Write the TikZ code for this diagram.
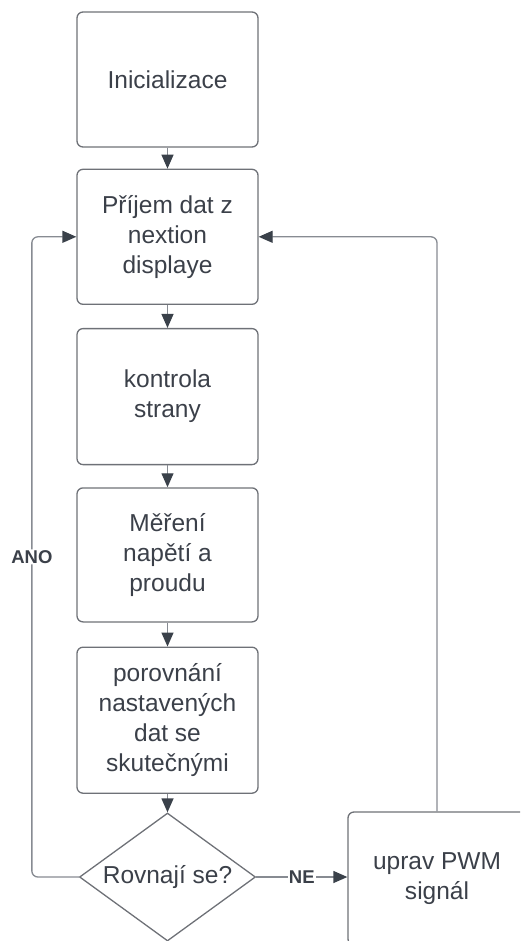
\documentclass[tikz,border=0pt]{standalone}
\usepackage{fontspec}
\setmainfont{Liberation Sans}
\usetikzlibrary{positioning, arrows.meta, shapes.geometric}
\definecolor{boxline}{HTML}{6E7177}
\definecolor{flowline}{HTML}{878B92}
\definecolor{tipdark}{HTML}{3A414A}
\definecolor{txtdark}{HTML}{3B4049}

\begin{document}
\begin{tikzpicture}[
		x=1pt, y=-1pt,
		>={Triangle[length=14pt, width=12pt, color=tipdark]},
		stepbox/.style={draw=boxline, line width=1.3pt, rounded corners=6pt,
			minimum width=181pt, align=center, text=txtdark, inner sep=2pt,
			font=\fontsize{24.5}{30}\selectfont},
		decision/.style={diamond, aspect=1.375, draw=boxline, line width=1.3pt, inner sep=0pt,
			minimum width=176pt, minimum height=128pt, text=txtdark,
			font=\fontsize{24.5}{30}\selectfont},
		flow/.style={->, draw=flowline, line width=1.3pt},
		tag/.style={fill=white, inner sep=1pt, text=txtdark,
			font=\fontsize{18.5}{22}\selectfont\bfseries}
		]
		
		\useasboundingbox (0,0) rectangle (520,941);
		\clip (0,0) rectangle (520,941);
		
		% Main column of steps
		\node[stepbox, minimum height=135pt] (init) at (167.5,79.5) {Inicializace};
		\node[stepbox, minimum height=135pt, below=21pt of init] (rx) {Příjem dat z\\nextion\\displaye};
		\node[stepbox, minimum height=136pt, below=23pt of rx] (side) {kontrola\\strany};
		\node[stepbox, minimum height=134pt, below=22pt of side] (meas) {Měření\\napětí a\\proudu};
		\node[stepbox, minimum height=146pt, below=24pt of meas] (cmp) {porovnání\\nastavených\\dat se\\skutečnými};
		\node[decision] (eq) at (167.5,877) {Rovnají se?};
		
		% Correction step, cut by the page edge
		\node[stepbox, minimum width=178pt, minimum height=133pt] (pwm) at (437,878.5) {uprav PWM\\signál};
		
		% Straight arrows down the column
		\draw[flow] (init) -- (rx);
		\draw[flow] (rx) -- (side);
		\draw[flow] (side) -- (meas);
		\draw[flow] (meas) -- (cmp);
		\draw[flow] (cmp) -- (eq);
		
		% Branches of the decision
		\coordinate (back) at ([xshift=-47pt]eq.west);
		\draw[flow, rounded corners=6pt] (eq.west) -- (back)
		-- node[tag, midway] {ANO} (back |- rx.west) -- (rx.west);
		
		\draw[flow] (eq.east) -- node[tag, midway] {NE} (eq.east -| pwm.west);
		
		\draw[flow, rounded corners=6pt] (pwm.north) |- (rx.east);
		
	\end{tikzpicture}
\end{document}
